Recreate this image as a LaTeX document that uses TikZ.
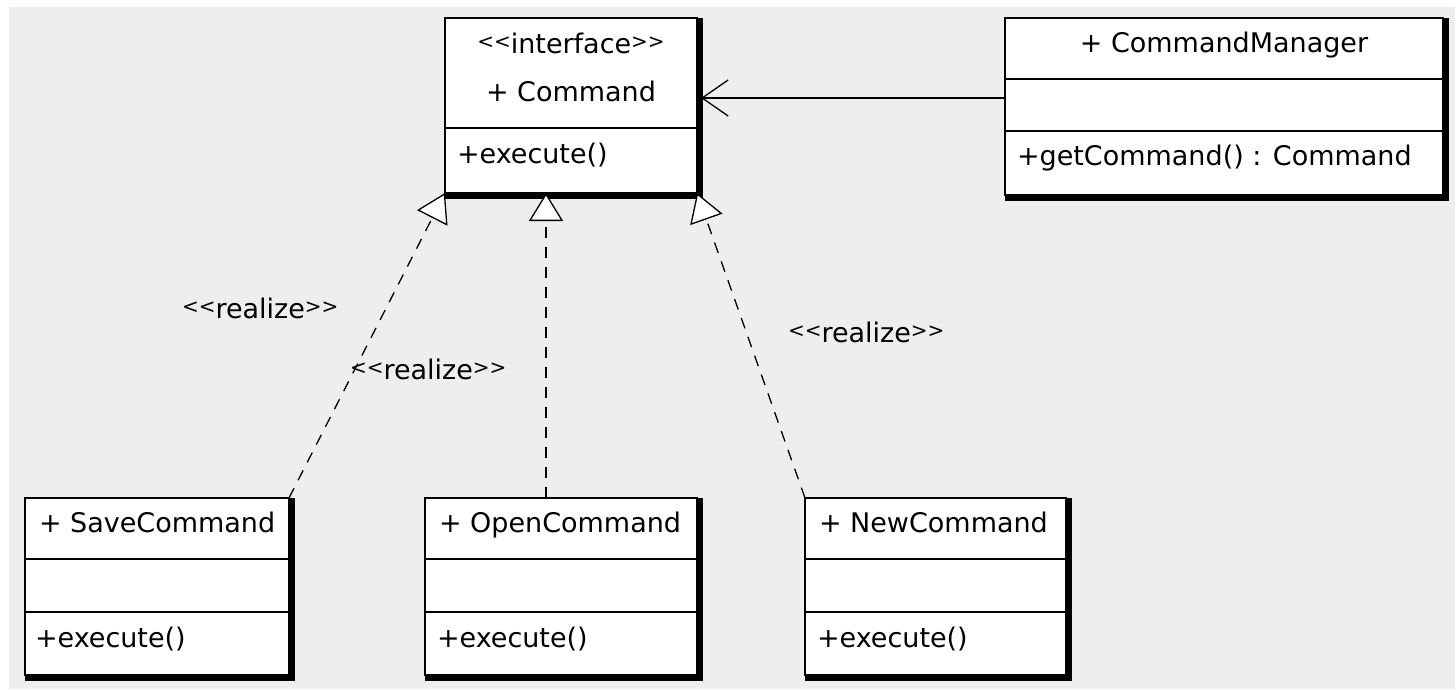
\documentclass[tikz,border=0pt]{standalone}
\usepackage{fontspec}
\setmainfont{DejaVu Sans}
\usetikzlibrary{arrows.meta,calc}
\pgfdeclarelayer{bg}\pgfdeclarelayer{shadow}
\pgfsetlayers{bg,shadow,main}
\definecolor{bggray}{RGB}{238,238,238}
\newcommand\stl{\raisebox{4.5pt}{\fontsize{20}{20}\selectfont<}}
\newcommand\stg{\raisebox{4.5pt}{\fontsize{20}{20}\selectfont>}}
\begin{document}
\begin{tikzpicture}[x=1pt,y=-1pt,
  every node/.style={font=\fontsize{27}{32}\selectfont, inner sep=0pt, outer sep=0pt},
  umlbox/.style={draw=black, fill=white, line width=1.5pt, anchor=north west, minimum height=177pt},
  divider/.style={line width=1.5pt},
  real/.style={line width=1.3pt, dash pattern=on 11pt off 9pt, -{Triangle[length=28pt,width=34pt,fill=white]}},
  assoc/.style={line width=1.3pt, -{Straight Barb[length=26pt,width=36pt]}},
  txt/.style={anchor=base west},
  ctxt/.style={anchor=base}]
\useasboundingbox (0,0) rectangle (1455,689);
\begin{pgfonlayer}{bg}
\fill[white] (0,0) rectangle (1455,689);
\fill[bggray] (9,7) rectangle (1455,689);
\end{pgfonlayer}

% boxes
\node[umlbox, minimum width=252pt, minimum height=175pt] (cmd) at (445,18) {};
\node[umlbox, minimum width=438pt] (mgr) at (1005,18) {};
\node[umlbox, minimum width=264pt] (save) at (25,498) {};
\node[umlbox, minimum width=272pt] (open) at (425,498) {};
\node[umlbox, minimum width=261pt] (new) at (805,498) {};

\begin{pgfonlayer}{shadow}
\foreach \n in {cmd,mgr,save,open,new}
  \fill[black] (\n.north west) rectangle ($(\n.south east)+(6,6)$);
\end{pgfonlayer}

% dividers
\draw[divider] ($(cmd.north west)+(0,110)$) -- ($(cmd.north east)+(0,110)$);
\draw[divider] ($(mgr.north west)+(0,61)$) -- ($(mgr.north east)+(0,61)$);
\draw[divider] ($(mgr.north west)+(0,113)$) -- ($(mgr.north east)+(0,113)$);
\foreach \n in {save,open,new}{
  \draw[divider] ($(\n.north west)+(0,61)$) -- ($(\n.north east)+(0,61)$);
  \draw[divider] ($(\n.north west)+(0,114)$) -- ($(\n.north east)+(0,114)$);
}

% texts
\node[ctxt] (cmdst) at (571,53) {\stl\stl interface\stg\stg};
\node[ctxt] (cmdname) at (571,101) {+ Command};
\node[txt] (cmdop) at (457,163) {+execute()};
\node[ctxt] (mgrname) at (1224,52) {+ CommandManager};
\node[txt] (mgrop) at (1017,165) {+getCommand() : Command};
\node[txt] (savename) at (39,532) {+ SaveCommand};
\node[txt] (saveop) at (35,647) {+execute()};
\node[txt] (openname) at (439,532) {+ OpenCommand};
\node[txt] (openop) at (437,647) {+execute()};
\node[txt] (newname) at (819,532) {+ NewCommand};
\node[txt] (newop) at (817,647) {+execute()};

% connectors
\draw[real] (save.north east) -- (cmd.south west);
\draw[real] ($(open.north)+(-15,0)$) -- ($(open.north |- cmd.south)+(-15,0)$);
\draw[real] (new.north west) -- (cmd.south east);
\draw[assoc] ($(mgr.north west)+(0,80)$) -- ($(cmd.north east)+(4,80)$);

% labels
\node[txt] (r1) at (182,318) {\stl\stl realize\stg\stg};
\node[txt] (r2) at (350,379) {\stl\stl realize\stg\stg};
\node[txt] (r3) at (788,342) {\stl\stl realize\stg\stg};
\end{tikzpicture}
\end{document}
